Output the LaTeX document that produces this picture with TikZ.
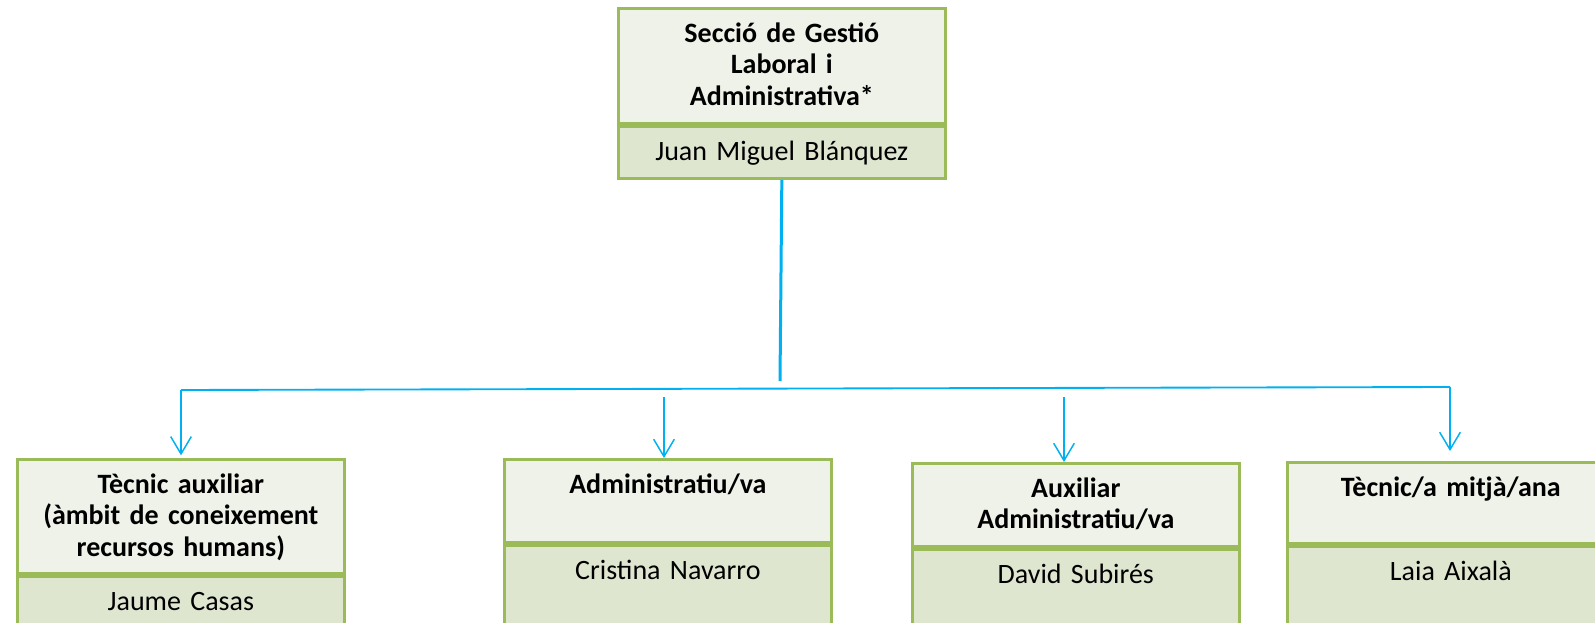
\documentclass[tikz,border=0pt]{standalone}
\usepackage{fontspec}
\setmainfont{Carlito}
\usetikzlibrary{positioning,arrows.meta}

\definecolor{boxgreen}{HTML}{9BBB59}
\definecolor{titlefill}{HTML}{EFF2E9}
\definecolor{namefill}{HTML}{DEE6D0}
\definecolor{linkblue}{HTML}{00B0F0}

\begin{document}
\begin{tikzpicture}[x=0.75pt,y=-0.75pt,
  post/.style={draw=boxgreen,line width=2.25pt,fill=titlefill,
    text width=245pt,align=center,inner xsep=0pt,inner ysep=0pt,
    text height=25.5pt,text depth=36.75pt,
    font=\fontsize{21}{23.5}\selectfont\bfseries},
  holder/.style={post,fill=namefill,text depth=49.5pt,
    font=\fontsize{21}{23.5}\selectfont},
  trunkline/.style={draw=linkblue,line width=2.25pt},
  busline/.style={draw=linkblue,line width=1.4pt},
  arrowline/.style={draw=linkblue,line width=1.1pt,
    -{Straight Barb[length=13pt,width=15.5pt]}}]
\useasboundingbox (0,0) rectangle (1595,623);
\clip (0,0) rectangle (1595,623);

% head of the section
\node[post,anchor=north west,text depth=60.75pt] (cap) at (617,7)
  {Secció de Gestió\\Laboral i\\Administrativa*};
\node[holder,below=0pt of cap,text depth=13.5pt] (capname) {Juan Miguel Blánquez};

% staff
\node[post,anchor=north west,text depth=60pt] (tec) at (16,458)
  {Tècnic auxiliar\\(àmbit de coneixement\\recursos humans)};
\node[holder,below=0pt of tec] (tecname) {Jaume Casas};

\node[post,anchor=north west] (adm) at (503,458) {Administratiu/va};
\node[holder,below=0pt of adm] (admname) {Cristina Navarro};

\node[post,anchor=north west] (aux) at (911,462) {Auxiliar\\Administratiu/va};
\node[holder,below=0pt of aux] (auxname) {David Subirés};

\node[post,anchor=north west,text depth=35.25pt] (mit) at (1286,461) {Tècnic/a mitjà/ana};
\node[holder,below=0pt of mit] (mitname) {Laia Aixalà};

% connectors
\coordinate (trunk) at (780,381);
\coordinate (busw) at (181,390);
\coordinate (buse) at (1450,387);
\coordinate (admtop) at (664,397);
\coordinate (auxtop) at (1064,397);
\coordinate (mitend) at (1450,451);

\draw[trunkline] (capname.south) -- (trunk);
\draw[busline] (busw) -- (buse);
\draw[arrowline,shorten >=2pt] (busw) -- (busw |- tec.north);
\draw[arrowline] (admtop) -- (admtop |- adm.north);
\draw[arrowline] (auxtop) -- (auxtop |- aux.north);
\draw[arrowline] (buse) -- (mitend);
\end{tikzpicture}
\end{document}
